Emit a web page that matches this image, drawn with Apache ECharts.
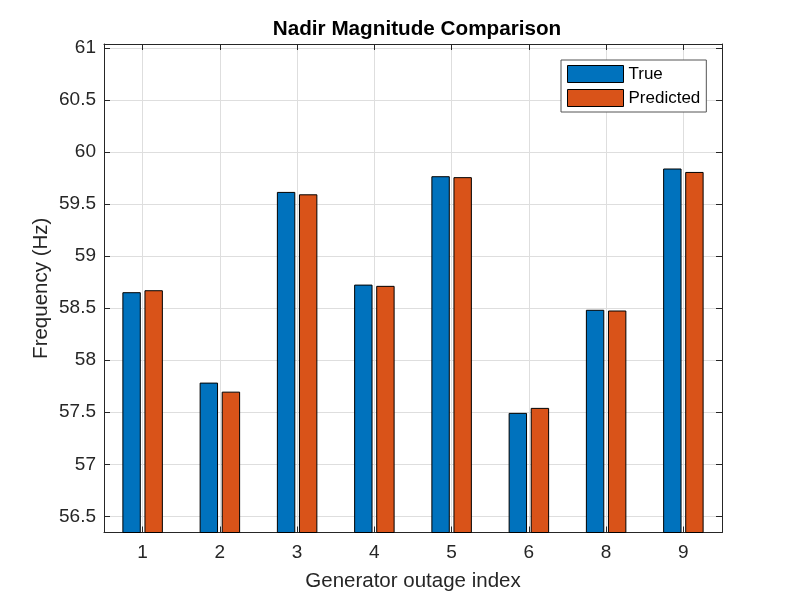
<!DOCTYPE html>
<html>
<head>
<meta charset="utf-8">
<script src="https://cdn.jsdelivr.net/npm/echarts@6/dist/echarts.min.js"></script>
<style>html,body{margin:0;padding:0;background:#fff;}#c{width:797px;height:598px;}</style>
</head>
<body>
<div id="c"></div>
<script>
const categories = ['1', '2', '3', '4', '5', '6', '8', '9'];
const trueValues = [58.654, 57.785, 59.618, 58.727, 59.769, 57.494, 58.485, 59.843];
const predictedValues = [58.673, 57.698, 59.595, 58.715, 59.760, 57.542, 58.478, 59.810];

const allVals = trueValues.concat(predictedValues);
const yMin = Math.min.apply(null, allVals) * 0.98;
const yMax = Math.max.apply(null, allVals) * 1.02;

const FONT = "'Liberation Sans', Helvetica, Arial, sans-serif";
const TXT = '#262626';
const GRIDC = '#dedede';

const chart = echarts.init(document.getElementById('c'), null, {renderer: 'canvas'});
chart.setOption({
  animation: false,
  backgroundColor: '#ffffff',
  textStyle: {fontFamily: FONT, color: TXT},
  title: {
    text: 'Nadir Magnitude Comparison',
    left: 412, top: 14, textAlign: 'center',
    textStyle: {fontFamily: FONT, fontSize: 20.7, fontWeight: 'bold', color: '#000'}
  },
  legend: {
    orient: 'vertical',
    left: 561, top: 60,
    padding: [5, 6, 5, 6],
    itemWidth: 56, itemHeight: 17, itemGap: 6,
    icon: 'rect',
    backgroundColor: '#fff',
    borderColor: '#555', borderWidth: 1, borderRadius: 0,
    itemStyle: {borderWidth: 1, borderColor: '#000'},
    textStyle: {fontFamily: FONT, fontSize: 17, color: '#000', padding: [0, 0, 0, 0]},
    data: ['True', 'Predicted']
  },
  grid: {left: 104, right: 75, top: 44, bottom: 65.5, show: false},
  xAxis: [{
    type: 'category',
    data: categories,
    position: 'bottom',
    name: 'Generator outage index',
    nameLocation: 'middle',
    nameGap: 38,
    nameMoveOverlap: false,
    nameTextStyle: {fontFamily: FONT, fontSize: 20.5, color: TXT},
    axisLine: {show: true, lineStyle: {color: TXT, width: 1}},
    axisTick: {show: true, inside: true, alignWithLabel: true, length: 6, lineStyle: {color: TXT}},
    axisLabel: {fontFamily: FONT, fontSize: 19, color: TXT, margin: 11},
    splitLine: {show: true, alignWithLabel: true, lineStyle: {color: GRIDC, width: 1}}
  }, {
    type: 'category',
    data: categories,
    position: 'top',
    axisLine: {show: true, lineStyle: {color: TXT, width: 1}},
    axisTick: {show: true, inside: true, alignWithLabel: true, length: 6, lineStyle: {color: TXT}},
    axisLabel: {show: false},
    splitLine: {show: false}
  }],
  yAxis: [{
    type: 'value',
    min: yMin, max: yMax,
    splitNumber: 9,
    position: 'left',
    name: 'Frequency (Hz)',
    nameLocation: 'middle',
    nameGap: 52,
    nameMoveOverlap: false,
    nameTextStyle: {fontFamily: FONT, fontSize: 20.5, color: TXT},
    axisLine: {show: true, lineStyle: {color: TXT, width: 1}},
    axisTick: {show: true, inside: true, length: 6, lineStyle: {color: TXT}},
    axisLabel: {fontFamily: FONT, fontSize: 19, color: TXT, margin: 8, showMinLabel: false, showMaxLabel: false},
    splitLine: {show: true, lineStyle: {color: GRIDC, width: 1}}
  }, {
    type: 'value',
    min: yMin, max: yMax,
    splitNumber: 9,
    position: 'right',
    axisLine: {show: true, lineStyle: {color: TXT, width: 1}},
    axisTick: {show: true, inside: true, length: 6, lineStyle: {color: TXT}},
    axisLabel: {show: false},
    splitLine: {show: false}
  }],
  series: [{
    name: 'True',
    type: 'bar',
    data: trueValues,
    barWidth: 18.4,
    barGap: '20%',
    itemStyle: {color: '#0072BD', borderColor: '#000', borderWidth: 1}
  }, {
    name: 'Predicted',
    type: 'bar',
    data: predictedValues,
    barWidth: 18.4,
    barGap: '20%',
    itemStyle: {color: '#D95319', borderColor: '#000', borderWidth: 1}
  }]
});
</script>
</body>
</html>
